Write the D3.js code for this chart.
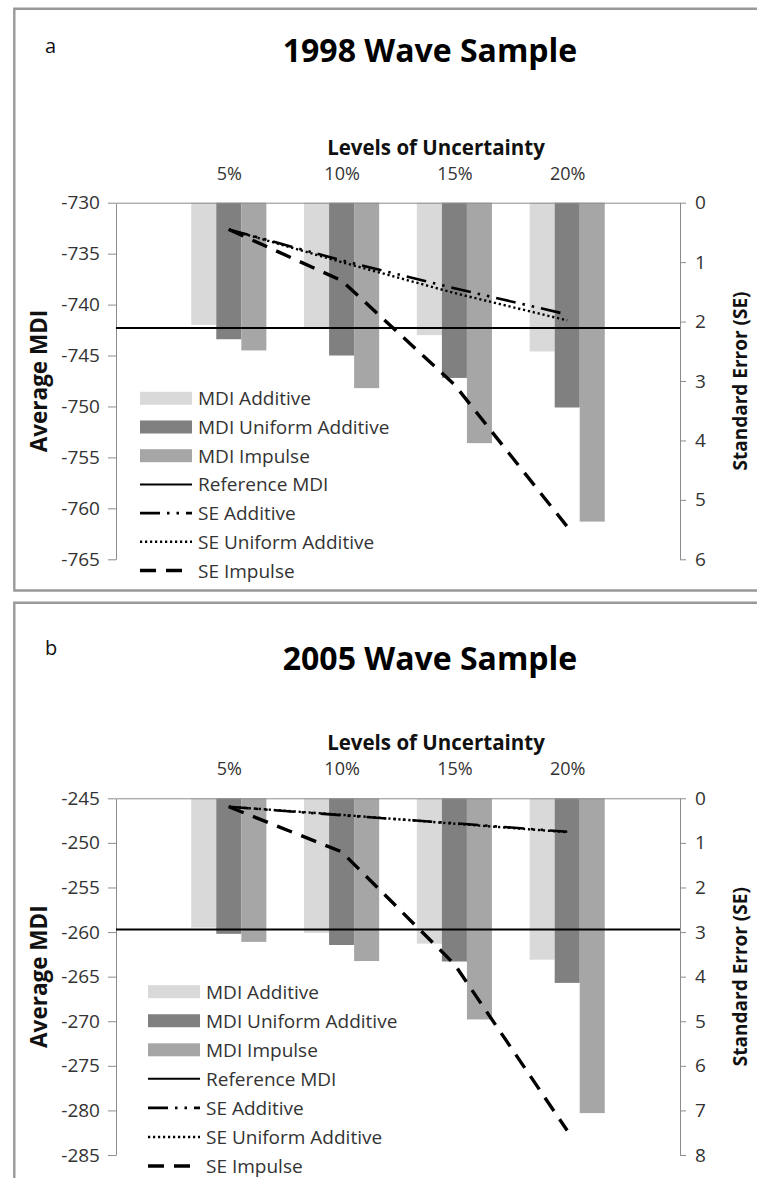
<!DOCTYPE html>
<html><head><meta charset="utf-8">
<script src="https://cdn.jsdelivr.net/npm/d3@7"></script>
<style>
body{margin:0;background:#fff;}
svg{display:block;}
text{font-family:"Open Sans",sans-serif;}
</style>
</head><body>
<svg id="chart" width="757" height="1178"></svg>
<script>
// ---------- data ----------
const levels = ["5%", "10%", "15%", "20%"];
const levelPct = [5, 10, 15, 20];
const legendLabels = ["MDI Additive", "MDI Uniform Additive", "MDI Impulse", "Reference MDI", "SE Additive", "SE Uniform Additive", "SE Impulse"];

const mdiAdditive1998 = [-742.0, -742.2, -743.0, -744.6];
const mdiUniform1998  = [-743.4, -745.0, -747.2, -750.1];
const mdiImpulse1998  = [-744.5, -748.2, -753.6, -761.3];
const refMdi1998 = -742.3;
const seAdditive1998 = [0.45, 0.97, 1.44, 1.88];
const seUniform1998  = [0.45, 1.00, 1.52, 1.98];
const seImpulse1998  = [0.45, 1.31, 3.06, 5.45];
const leftTicks1998  = [-730, -735, -740, -745, -750, -755, -760, -765];
const rightTicks1998 = [0, 1, 2, 3, 4, 5, 6];

const mdiAdditive2005 = [-259.5, -260.1, -261.3, -263.1];
const mdiUniform2005  = [-260.2, -261.45, -263.3, -265.7];
const mdiImpulse2005  = [-261.1, -263.25, -269.8, -280.3];
const refMdi2005 = -259.7;
const seAdditive2005 = [0.19, 0.38, 0.56, 0.75];
const seUniform2005  = [0.19, 0.37, 0.57, 0.76];
const seImpulse2005  = [0.19, 1.20, 3.72, 7.45];
const leftTicks2005  = [-245, -250, -255, -260, -265, -270, -275, -280, -285];
const rightTicks2005 = [0, 1, 2, 3, 4, 5, 6, 7, 8];

// ---------- styles ----------
const barColors = ["#d9d9d9", "#808080", "#a6a6a6"];
const axisColor = "#8c8c8c";
const textColor = "#333";
const lineStyles = {
  additive: {dash: "20,7,2.5,7,2.5,7", width: 2.6},
  uniform:  {dash: "2.2,2.8", width: 2.4},
  impulse:  {dash: "16,10", width: 3.4}
};

const svg = d3.select("#chart");

function drawPanel(p) {
  const g = svg.append("g");
  // frame
  g.append("path")
    .attr("d", `M760,${p.boxTop} H14.3 V${p.boxBottom} H760`)
    .attr("fill", "none").attr("stroke", "#999").attr("stroke-width", 2.4);

  const x = d3.scaleLinear().domain([0, 25]).range([116, 680]);
  const yL = d3.scaleLinear().domain([p.leftTicks[0], p.leftTicks[p.leftTicks.length - 1]]).range([p.top, p.bottom]);
  const yR = d3.scaleLinear().domain([p.rightTicks[0], p.rightTicks[p.rightTicks.length - 1]]).range([p.top, p.bottom]);

  // label & title
  g.append("text").attr("x", 45).attr("y", p.labelY).attr("font-size", 20).attr("fill", "#111").text(p.label);
  g.append("text").attr("x", 430).attr("y", p.titleY).attr("text-anchor", "middle")
    .attr("font-size", 32).attr("font-weight", "bold").attr("fill", "#000").text(p.title);
  g.append("text").attr("x", 436).attr("y", p.top - 48).attr("text-anchor", "middle")
    .attr("font-size", 20.5).attr("font-weight", "bold").attr("fill", "#111").text("Levels of Uncertainty");

  // bars
  const bw = (x(5) - x(0)) * 0.222;
  const series = [p.additive, p.uniform, p.impulse];
  series.forEach((vals, si) => {
    g.append("g").selectAll("rect").data(vals).join("rect")
      .attr("x", (d, i) => x(levelPct[i]) + (si - 1.5) * bw)
      .attr("width", bw)
      .attr("y", yL(p.leftTicks[0]))
      .attr("height", d => yL(d) - yL(p.leftTicks[0]))
      .attr("fill", barColors[si]);
  });

  // axes
  const top = g.append("g").attr("transform", `translate(0,${p.top})`)
    .call(d3.axisTop(x).tickValues(levelPct).tickFormat((d, i) => levels[i]).tickSize(0).tickPadding(23));
  top.select(".domain").attr("stroke", axisColor);
  top.selectAll("text").attr("font-size", 18).attr("fill", textColor).attr("font-family", "Open Sans");

  const left = g.append("g").attr("transform", "translate(116,0)")
    .call(d3.axisLeft(yL).tickValues(p.leftTicks).tickFormat(d => String(d)).tickSize(8).tickSizeOuter(0).tickPadding(8));
  left.select(".domain").attr("stroke", axisColor);
  left.selectAll(".tick line").attr("stroke", axisColor);
  left.selectAll("text").attr("font-size", 19).attr("fill", textColor).attr("font-family", "Open Sans");

  const right = g.append("g").attr("transform", "translate(680,0)")
    .call(d3.axisRight(yR).tickValues(p.rightTicks).tickFormat(d => String(d)).tickSize(6).tickSizeOuter(0).tickPadding(9));
  right.select(".domain").attr("stroke", axisColor);
  right.selectAll(".tick line").attr("stroke", axisColor);
  right.selectAll("text").attr("font-size", 19).attr("fill", textColor).attr("font-family", "Open Sans");

  // axis titles
  g.append("text").attr("transform", `translate(47,${(p.top + p.bottom) / 2}) rotate(-90)`)
    .attr("text-anchor", "middle").attr("font-size", 22.5).attr("font-weight", "bold").attr("fill", "#111").text("Average MDI");
  g.append("text").attr("transform", `translate(747,${(p.top + p.bottom) / 2}) rotate(-90)`)
    .attr("text-anchor", "middle").attr("font-size", 19).attr("font-weight", "bold").attr("fill", "#111").text("Standard Error (SE)");

  // reference line
  g.append("line").attr("x1", 116).attr("x2", 680).attr("y1", yL(p.ref)).attr("y2", yL(p.ref))
    .attr("stroke", "#000").attr("stroke-width", 2);

  // SE lines
  const line = d3.line().x((d, i) => x(levelPct[i])).y(d => yR(d));
  [[p.seUniform, lineStyles.uniform], [p.seAdditive, lineStyles.additive], [p.seImpulse, lineStyles.impulse]].forEach(([vals, st]) => {
    g.append("path").datum(vals).attr("d", line).attr("fill", "none").attr("stroke", "#000")
      .attr("stroke-width", st.width).attr("stroke-dasharray", st.dash);
  });

  // legend
  const lg = g.append("g");
  legendLabels.forEach((lab, i) => {
    const cy = p.legendY + i * p.legendStep;
    const x0 = p.legendX, x1 = p.legendX + 52;
    if (i < 3) {
      lg.append("rect").attr("x", x0).attr("y", cy - 6.5).attr("width", 52).attr("height", 13).attr("fill", barColors[i]);
    } else {
      const st = i === 3 ? {dash: null, width: 2} : i === 4 ? lineStyles.additive : i === 5 ? lineStyles.uniform : lineStyles.impulse;
      lg.append("line").attr("x1", x0).attr("x2", x1).attr("y1", cy).attr("y2", cy)
        .attr("stroke", "#000").attr("stroke-width", st.width).attr("stroke-dasharray", st.dash);
    }
    lg.append("text").attr("x", x1 + 6).attr("y", cy + 7).attr("font-size", 19).attr("fill", textColor).text(lab);
  });
}

drawPanel({
  label: "a", title: "1998 Wave Sample", labelY: 53, titleY: 62,
  boxTop: 8.7, boxBottom: 590.5, top: 202.7, bottom: 559.3,
  leftTicks: leftTicks1998, rightTicks: rightTicks1998,
  additive: mdiAdditive1998, uniform: mdiUniform1998, impulse: mdiImpulse1998, ref: refMdi1998,
  seAdditive: seAdditive1998, seUniform: seUniform1998, seImpulse: seImpulse1998,
  legendX: 140, legendY: 398.3, legendStep: 28.7
});
drawPanel({
  label: "b", title: "2005 Wave Sample", labelY: 655, titleY: 670,
  boxTop: 602.7, boxBottom: 1190, top: 798.3, bottom: 1155,
  leftTicks: leftTicks2005, rightTicks: rightTicks2005,
  additive: mdiAdditive2005, uniform: mdiUniform2005, impulse: mdiImpulse2005, ref: refMdi2005,
  seAdditive: seAdditive2005, seUniform: seUniform2005, seImpulse: seImpulse2005,
  legendX: 148, legendY: 991.7, legendStep: 29.05
});
</script>
</body></html>
